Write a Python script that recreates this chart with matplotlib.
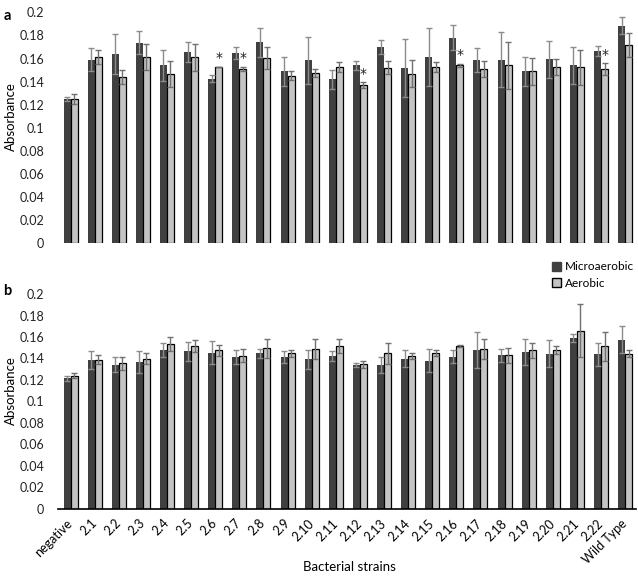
import numpy as np
import matplotlib
matplotlib.use("Agg")
import matplotlib.pyplot as plt
from matplotlib.patches import Patch

plt.rcParams['font.family'] = ['Lato', 'DejaVu Sans']

strains = ["negative", "2.1", "2.2", "2.3", "2.4", "2.5", "2.6", "2.7", "2.8", "2.9",
           "2.10", "2.11", "2.12", "2.13", "2.14", "2.15", "2.16", "2.17", "2.18",
           "2.19", "2.20", "2.21", "2.22", "Wild Type"]

# panel a
micro_a = [0.125, 0.159, 0.164, 0.1735, 0.154, 0.1655, 0.1427, 0.165, 0.174, 0.149,
           0.1586, 0.142, 0.154, 0.170, 0.1517, 0.161, 0.178, 0.1586, 0.159,
           0.149, 0.1594, 0.154, 0.1666, 0.1885]
micro_a_err = [0.002, 0.010, 0.017, 0.010, 0.0135, 0.0085, 0.0033, 0.005, 0.0125, 0.0127,
               0.0204, 0.008, 0.0037, 0.0064, 0.0253, 0.025, 0.011, 0.0104, 0.024,
               0.0127, 0.0161, 0.016, 0.0044, 0.0075]
aero_a = [0.125, 0.161, 0.144, 0.1614, 0.1465, 0.161, 0.153, 0.151, 0.1606, 0.145,
          0.1476, 0.1525, 0.137, 0.152, 0.147, 0.153, 0.154, 0.1508, 0.154,
          0.149, 0.1528, 0.1525, 0.151, 0.1718]
aero_a_err = [0.004, 0.006, 0.006, 0.011, 0.0115, 0.0114, 0.0, 0.002, 0.0094, 0.004,
              0.0034, 0.0045, 0.0026, 0.0057, 0.012, 0.0044, 0.0017, 0.0069, 0.0207,
              0.0116, 0.0072, 0.0153, 0.005, 0.0106]
signif_a = ["2.6", "2.7", "2.12", "2.16", "2.22"]

# panel b
micro_b = [0.1214, 0.1387, 0.134, 0.1365, 0.148, 0.1467, 0.1455, 0.1412, 0.1449, 0.1412,
           0.1393, 0.1424, 0.134, 0.134, 0.1396, 0.138, 0.1418, 0.148, 0.143,
           0.1458, 0.1443, 0.1588, 0.1437, 0.1576]
micro_b_err = [0.0026, 0.0083, 0.0069, 0.0105, 0.0065, 0.009, 0.0108, 0.0068, 0.0041, 0.0055,
               0.0087, 0.0046, 0.0019, 0.0078, 0.0078, 0.0106, 0.0056, 0.017, 0.006,
               0.0122, 0.0127, 0.0037, 0.0111, 0.0124]
aero_b = [0.1238, 0.1387, 0.1356, 0.1396, 0.1536, 0.1517, 0.1474, 0.1427, 0.1495, 0.1446,
          0.1492, 0.1514, 0.1347, 0.1446, 0.1424, 0.1449, 0.1517, 0.1489, 0.143,
          0.1474, 0.1477, 0.166, 0.1514, 0.1443]
aero_b_err = [0.0022, 0.0043, 0.0062, 0.005, 0.0064, 0.0053, 0.0052, 0.0063, 0.009, 0.0028,
              0.0093, 0.0066, 0.0033, 0.0094, 0.0028, 0.0025, 0.0006, 0.0091, 0.007,
              0.0066, 0.004, 0.025, 0.0136, 0.0031]

DARK = "#404040"
LIGHT = "#c4c4c4"
W = 0.29

fig = plt.figure(figsize=(6.38, 5.77), dpi=100)
ax_a = fig.add_axes([0.0909, 0.578, 0.906, 0.4007])
ax_b = fig.add_axes([0.0909, 0.1184, 0.906, 0.372])

x = np.arange(len(strains))


def draw(ax, m, me, a, ae):
    ax.bar(x - W / 2, m, W, color=DARK, zorder=2)
    ax.bar(x + W / 2, a, W, color=LIGHT, edgecolor="black", linewidth=0.9, zorder=2)
    ax.errorbar(x - W / 2, m, yerr=me, fmt="none", ecolor="#8c8c8c",
                elinewidth=1, capsize=2.5, capthick=1, zorder=3)
    ax.errorbar(x + W / 2, a, yerr=ae, fmt="none", ecolor="#707070",
                elinewidth=1, capsize=2.5, capthick=1, zorder=3)
    ax.set_ylim(0, 0.2)
    ax.set_xlim(-0.52, 23.45)
    ax.set_yticks(np.arange(0, 0.201, 0.02))
    ax.set_yticklabels(["0", "0.02", "0.04", "0.06", "0.08", "0.1", "0.12",
                        "0.14", "0.16", "0.18", "0.2"])
    ax.tick_params(axis="y", length=0, pad=10, labelsize=9, colors="#222222")
    for s in ["top", "right", "left"]:
        ax.spines[s].set_visible(False)
    ax.set_ylabel("Absorbance", fontsize=9.5)
    ax.yaxis.set_label_coords(-0.071, 0.55)


draw(ax_a, micro_a, micro_a_err, aero_a, aero_a_err)
ax_a.spines["bottom"].set_visible(False)
ax_a.set_xticks([])
for s in signif_a:
    i = strains.index(s)
    ax_a.text(i + W / 2, aero_a[i] + aero_a_err[i] + 0.001, "*",
              ha="center", va="bottom", fontsize=10, color="#222222",
              family="DejaVu Sans")

draw(ax_b, micro_b, micro_b_err, aero_b, aero_b_err)
ax_b.spines["bottom"].set_color("black")
ax_b.spines["bottom"].set_linewidth(1.2)
ax_b.set_xticks(x)
ax_b.set_xticklabels(strains, rotation=45, ha="right", va="center",
                     rotation_mode="anchor", fontsize=9)
ax_b.tick_params(axis="x", length=0, pad=9)
ax_b.set_xlabel("Bacterial strains", fontsize=9.5)
ax_b.xaxis.set_label_coords(0.505, -0.245)

fig.text(0.005, 0.985, "a", fontsize=10.5, fontweight="bold", va="top")
fig.text(0.005, 0.507, "b", fontsize=10.5, fontweight="bold", va="top")

handles = [Patch(facecolor=DARK, edgecolor=DARK, label="Microaerobic"),
           Patch(facecolor=LIGHT, edgecolor="black", label="Aerobic")]
fig.legend(handles=handles, loc="upper left", bbox_to_anchor=(0.858, 0.555),
           frameon=False, fontsize=8.5, handlelength=0.75, handleheight=0.75,
           handletextpad=0.3, labelspacing=0.45, borderaxespad=0)

fig.savefig("out.png", dpi=100)
